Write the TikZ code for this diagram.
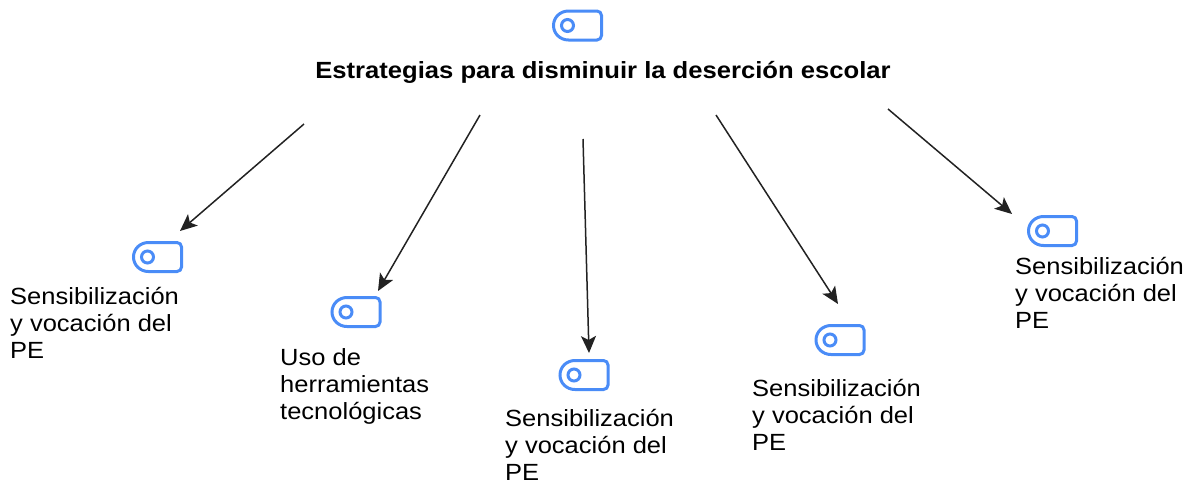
\documentclass[tikz,border=0pt]{standalone}
\usepackage{fontspec}
\setmainfont{Liberation Sans}
\usetikzlibrary{arrows.meta}
\definecolor{iconblue}{HTML}{4A8CF7}
\definecolor{inkline}{HTML}{222222}
\tikzset{
  x=1pt,y=-1pt,
  label/.style={inner sep=0pt,anchor=north west,align=left,font=\fontsize{23.4}{27}\selectfont,xscale=1.09,transform shape},
  titlelabel/.style={inner sep=0pt,anchor=center,font=\bfseries\fontsize{23.4}{27}\selectfont,xscale=1.095,transform shape},
  link/.style={draw=inkline,line width=1.5pt,-{Stealth[length=17pt,width=15pt,inset=4pt]}},
  iconline/.style={draw=iconblue,line width=3pt},
  pics/toggle/.style={code={
    \draw[iconline] (-9,-14.5) -- (19.5,-14.5) .. controls (22,-14.5) and (24,-12.5) .. (24,-10) -- (24,10) .. controls (24,12.5) and (22,14.5) .. (19.5,14.5) -- (-9,14.5) .. controls (-17.5,14.5) and (-24,8) .. (-24,0) .. controls (-24,-8) and (-17.5,-14.5) .. (-9,-14.5) -- cycle;
    \draw[iconline] (-10,0) circle[radius=6];
  }}
}
\begin{document}
\begin{tikzpicture}
\useasboundingbox (0,0) rectangle (1191,483);
\pic (i0) at (577.5,25.5) {toggle};
\pic (i1) at (157.5,257) {toggle};
\pic (i2) at (356,312) {toggle};
\pic (i3) at (584,375) {toggle};
\pic (i4) at (840,340) {toggle};
\pic (i5) at (1052.5,231) {toggle};
\node[titlelabel] (t0) at (603,72) {Estrategias para disminuir la deserción escolar};
\node[label] (t1) at (10,287) {Sensibilización\\y vocación del\\PE};
\node[label] (t2) at (280,348) {Uso de\\herramientas\\tecnológicas};
\node[label] (t3) at (505,409) {Sensibilización\\y vocación del\\PE};
\node[label] (t4) at (752,379) {Sensibilización\\y vocación del\\PE};
\node[label] (t5) at (1015,257) {Sensibilización\\y vocación del\\PE};
\coordinate (a1s) at (304,124); \coordinate (a1e) at (180,231);
\coordinate (a2s) at (480,115); \coordinate (a2e) at (378,291);
\coordinate (a3s) at (583,139); \coordinate (a3e) at (589,353);
\coordinate (a4s) at (716,115); \coordinate (a4e) at (838,304);
\coordinate (a5s) at (888,109); \coordinate (a5e) at (1012,214);
\draw[link] (a1s) -- (a1e);
\draw[link] (a2s) -- (a2e);
\draw[link] (a3s) -- (a3e);
\draw[link] (a4s) -- (a4e);
\draw[link] (a5s) -- (a5e);
\end{tikzpicture}
\end{document}
